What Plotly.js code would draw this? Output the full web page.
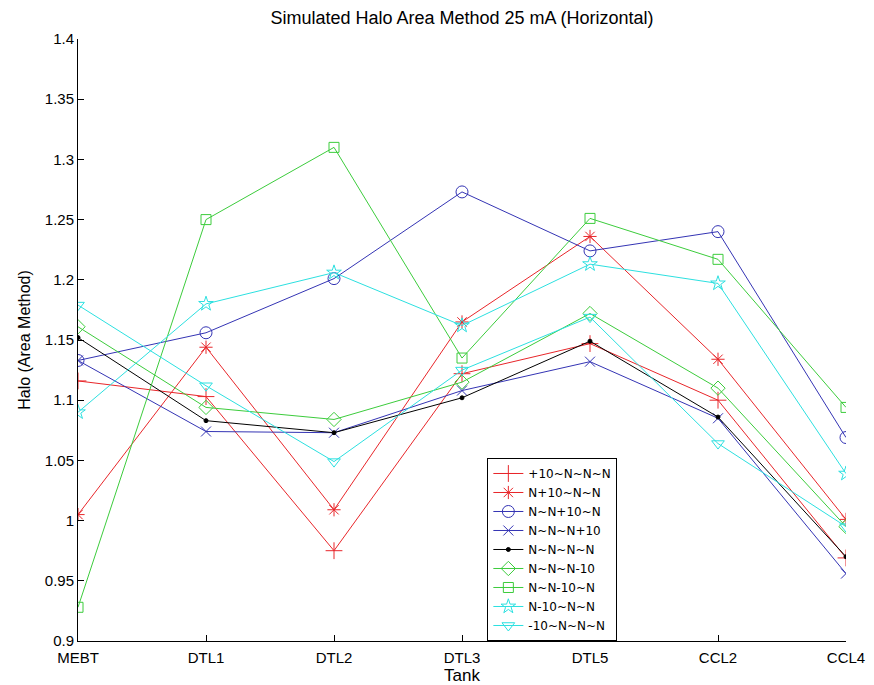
<!DOCTYPE html>
<html>
<head>
<meta charset="utf-8">
<script src="https://cdn.plot.ly/plotly-3.0.1.min.js"></script>
<style>html,body{margin:0;padding:0;background:#fff;}#chart{width:874px;height:685px;}</style>
</head>
<body>
<div id="chart"></div>
<script>
var tanks = ["MEBT", "DTL1", "DTL2", "DTL3", "DTL5", "CCL2", "CCL4"];
var seriesNames = ["+10~N~N~N", "N+10~N~N", "N~N+10~N", "N~N~N+10", "N~N~N~N", "N~N~N-10", "N~N-10~N", "N-10~N~N", "-10~N~N~N"];
var plus10NNN   = [1.116, 1.103, 0.975, 1.122, 1.147, 1.100, 0.969];
var nPlus10NN   = [1.005, 1.144, 1.009, 1.165, 1.236, 1.134, 1.001];
var nnPlus10N   = [1.133, 1.156, 1.201, 1.273, 1.224, 1.240, 1.069];
var nnnPlus10   = [1.133, 1.074, 1.073, 1.108, 1.132, 1.085, 0.956];
var nnnn        = [1.152, 1.083, 1.073, 1.102, 1.149, 1.086, 0.970];
var nnnMinus10  = [1.161, 1.094, 1.084, 1.115, 1.172, 1.110, 0.995];
var nnMinus10N  = [0.928, 1.250, 1.310, 1.135, 1.251, 1.217, 1.094];
var nMinus10NN  = [1.090, 1.180, 1.206, 1.162, 1.213, 1.197, 1.039];
var minus10NNN  = [1.179, 1.112, 1.049, 1.125, 1.169, 1.064, 0.995];
var yTickVals = [0.9, 0.95, 1, 1.05, 1.1, 1.15, 1.2, 1.25, 1.3, 1.35, 1.4];
var yTickText = ["0.9", "0.95", "1", "1.05", "1.1", "1.15", "1.2", "1.25", "1.3", "1.35", "1.4"];

var seriesValues = [plus10NNN, nPlus10NN, nnPlus10N, nnnPlus10, nnnn, nnnMinus10, nnMinus10N, nMinus10NN, minus10NNN];
var colors = ["#e8262a", "#e8262a", "#3434b4", "#3434b4", "#000000", "#3ccc3c", "#3ccc3c", "#2ce0e0", "#2ce0e0"];
var symbols = ["cross-thin-open", "asterisk-open", "circle-open", "x-thin-open", "circle", "diamond-open", "square-open", "star-open", "triangle-down-open"];
var sizes = [12, 11, 12, 10, 4, 11, 10, 11, 11];

var traces = seriesValues.map(function (vals, i) {
  return {
    type: "scatter",
    mode: "lines+markers",
    name: seriesNames[i],
    x: tanks,
    y: vals,
    line: {color: colors[i], width: 1},
    marker: {symbol: symbols[i], size: sizes[i], color: colors[i], line: {color: colors[i], width: 1}}
  };
});

var layout = {
  width: 874,
  height: 685,
  margin: {l: 78, r: 28, t: 39, b: 44},
  paper_bgcolor: "#ffffff",
  plot_bgcolor: "#ffffff",
  font: {family: "Liberation Sans, Arial, sans-serif", size: 15, color: "#000"},
  title: {text: "Simulated Halo Area Method 25 mA (Horizontal)", font: {size: 18, color: "#000"}, xref: "paper", x: 0.5, xanchor: "center", yref: "container", y: 0.974, yanchor: "middle"},
  xaxis: {
    type: "category",
    range: [0, 6],
    showgrid: false,
    zeroline: false,
    showline: true,
    linecolor: "#000",
    linewidth: 1,
    ticks: "inside",
    ticklen: 6,
    tickcolor: "#000",
    tickfont: {size: 15},
    ticklabelstandoff: 3,
    title: {text: "Tank", font: {size: 17}, standoff: 2}
  },
  yaxis: {
    range: [0.9, 1.4],
    tickvals: yTickVals,
    ticktext: yTickText,
    showgrid: false,
    zeroline: false,
    showline: true,
    linecolor: "#000",
    linewidth: 1,
    ticks: "inside",
    ticklen: 6,
    tickcolor: "#000",
    tickfont: {size: 15},
    title: {text: "Halo (Area Method)", font: {size: 16}, standoff: 10}
  },
  showlegend: true,
  legend: {
    x: 0.533,
    y: 0.304,
    xanchor: "left",
    yanchor: "top",
    bgcolor: "#ffffff",
    bordercolor: "#000",
    borderwidth: 1,
    font: {size: 12, family: "DejaVu Sans, sans-serif"},
    tracegroupgap: 0,
    itemwidth: 30
  }
};

Plotly.newPlot("chart", traces, layout, {displayModeBar: false, staticPlot: true});
</script>
</body>
</html>
